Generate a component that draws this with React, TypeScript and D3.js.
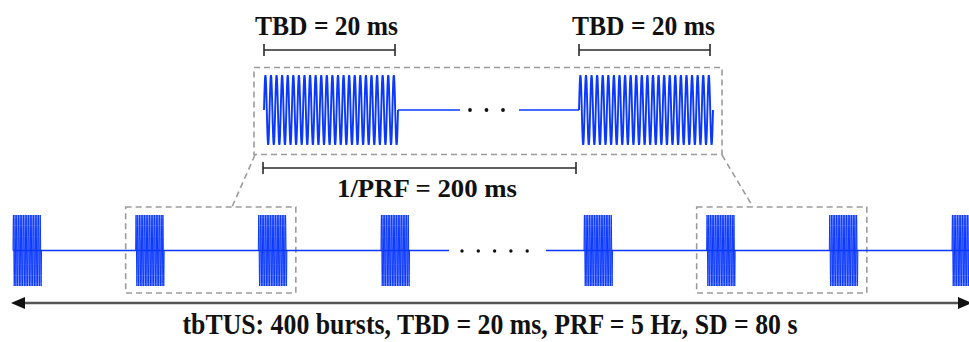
import * as d3 from 'd3'

// timing of the protocol (ms)
const TBD_MS = 20
const PERIOD_MS = 200
const topOnsets = [0, 200]
const bottomOnsets = [0, 200, 400, 600, 79200, 79400, 79600, 79800]
const zoomedOnsets = [[200, 400], [79400, 79600]]

const tbdLabel = 'TBD = 20 ms'
const periodLabel = '1/PRF = 200 ms'
const caption = 'tbTUS: 400 bursts, TBD = 20 ms, PRF = 5 Hz, SD = 80 s'

const W = 969
const H = 342
const BLUE = '#0a38ff'
const GRAY = '#9c9c9c'
const INK = '#111'
const FONT = '"Liberation Serif", "Times New Roman", serif'

// zoomed view: burst stretched, inter-burst gap broken
const xTop = d3.scaleLinear()
  .domain([0, TBD_MS, PERIOD_MS, PERIOD_MS + TBD_MS])
  .range([264, 398, 579, 713])

// overview: broken time axis (first bursts ... last bursts)
const xBot = d3.scaleLinear()
  .domain([0, 600, 79200, 79800])
  .range([13, 381, 584, 952])

const TOP_Y = 110
const BOT_Y = 250.5
const BOT_W = 28.5

function burstPath(x0: number, w: number, cy: number, amp: number, cycles: number) {
  const n = cycles * 16
  const pts = d3.range(n + 1).map(i => [
    x0 + (w * i) / n,
    cy - amp * Math.sin((2 * Math.PI * cycles * i) / n)
  ] as [number, number])
  return d3.line()(pts) || ''
}

function Bracket({ x1, x2, y }: { x1: number, x2: number, y: number }) {
  return (
    <g stroke="#2a2a2a" strokeWidth={1.6}>
      <line x1={x1} x2={x2} y1={y} y2={y} />
      <line x1={x1} x2={x1} y1={y - 6} y2={y + 6} />
      <line x1={x2} x2={x2} y1={y - 6} y2={y + 6} />
    </g>
  )
}

export default function App() {
  const dash = '6 4'
  return (
    <svg width={W} height={H} style={{ position: 'absolute', left: 0, top: 0, background: '#fff' }}
      fontFamily={FONT} fontWeight="bold">

      {/* zoomed bursts */}
      <Bracket x1={xTop(0)} x2={xTop(TBD_MS) - 3} y={50} />
      <Bracket x1={xTop(PERIOD_MS)} x2={xTop(PERIOD_MS + TBD_MS) - 3} y={50} />
      <text x={326.5} y={35} textAnchor="middle" fontSize={27} textLength={143} lengthAdjust="spacingAndGlyphs" fill={INK}>{tbdLabel}</text>
      <text x={643.5} y={35} textAnchor="middle" fontSize={27} textLength={143} lengthAdjust="spacingAndGlyphs" fill={INK}>{tbdLabel}</text>

      <rect x={254} y={67.5} width={468} height={87} fill="none" stroke={GRAY} strokeWidth={1.6} strokeDasharray={dash} />

      <g fill="none" stroke={BLUE} strokeWidth={1.9}>
        {topOnsets.map(t => (
          <path key={t} d={burstPath(xTop(t), xTop(t + TBD_MS) - xTop(t), TOP_Y, 35, 24)} />
        ))}
        <line x1={xTop(TBD_MS)} x2={460} y1={TOP_Y} y2={TOP_Y} strokeWidth={1.6} />
        <line x1={519} x2={xTop(PERIOD_MS)} y1={TOP_Y} y2={TOP_Y} strokeWidth={1.6} />
      </g>
      {d3.range(3).map(i => (
        <circle key={i} cx={470 + i * 16.5} cy={TOP_Y} r={1.9} fill={INK} />
      ))}

      <Bracket x1={xTop(0) - 1} x2={xTop(PERIOD_MS) - 3} y={168} />
      <text x={427} y={197} textAnchor="middle" fontSize={25} textLength={180} lengthAdjust="spacingAndGlyphs" fill={INK}>{periodLabel}</text>

      {/* connectors between views */}
      <g fill="none" stroke={GRAY} strokeWidth={1.6} strokeDasharray={dash}>
        <line x1={255} y1={155} x2={232} y2={207} />
        <line x1={722} y1={155} x2={753} y2={207} />
        {zoomedOnsets.map(([a, b]) => (
          <rect key={a} x={xBot(a) - 10} y={207} width={xBot(b) + BOT_W + 9 - (xBot(a) - 10)} height={86} />
        ))}
      </g>

      {/* overview of the whole train */}
      <g fill="none" stroke={BLUE}>
        <line x1={xBot(0)} x2={449} y1={BOT_Y} y2={BOT_Y} strokeWidth={1.6} />
        <line x1={546} x2={W} y1={BOT_Y} y2={BOT_Y} strokeWidth={1.6} />
        {bottomOnsets.map(t => (
          <path key={t} d={burstPath(xBot(t), BOT_W, BOT_Y, 35.5, 17)} strokeWidth={1} />
        ))}
      </g>
      {d3.range(5).map(i => (
        <circle key={i} cx={462 + i * 16.3} cy={BOT_Y + 0.5} r={1.7} fill={INK} />
      ))}

      {/* session duration arrow */}
      <line x1={20} x2={960} y1={303} y2={303} stroke="#555" strokeWidth={2.5} />
      <path d="M11,303 L25,297 L25,309 Z" fill={INK} />
      <path d="M972,303 L958,297 L958,309 Z" fill={INK} />

      <text x={490} y={334} textAnchor="middle" fontSize={29} textLength={615} lengthAdjust="spacingAndGlyphs" fill={INK}>{caption}</text>
    </svg>
  )
}
